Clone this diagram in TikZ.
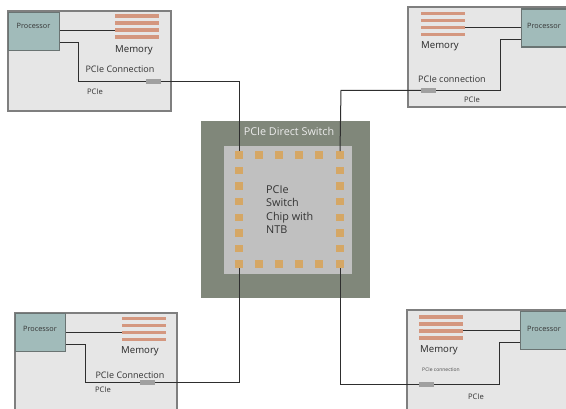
\documentclass[tikz,border=0pt]{standalone}
\usepackage{fontspec}
\setmainfont{Open Sans}
\definecolor{boxfill}{HTML}{E6E6E6}
\definecolor{boxedge}{HTML}{7F7F7F}
\definecolor{procfill}{HTML}{A1BBBA}
\definecolor{procedge}{HTML}{6A7473}
\definecolor{memcol}{HTML}{D4977F}
\definecolor{outerchip}{HTML}{80877A}
\definecolor{innerchip}{HTML}{C0C0C0}
\definecolor{pincol}{HTML}{D5A765}
\definecolor{conncol}{HTML}{A0A0A0}
\definecolor{wire}{HTML}{2E2E2E}
\definecolor{txt}{HTML}{333333}
\begin{document}
\begin{tikzpicture}[x=1pt,y=-1pt,
  hostbox/.style={fill=boxfill,draw=boxedge,line width=1.2pt},
  procbox/.style={fill=procfill,draw=procedge,line width=1.2pt},
  memstripe/.style={fill=memcol,draw=none},
  connbox/.style={fill=conncol,draw=none,minimum width=15pt,minimum height=5pt,inner sep=0pt},
  pin/.style={fill=pincol,draw=none,minimum size=7.5pt,inner sep=0pt},
  wireline/.style={draw=wire,line width=1pt},
  lbl/.style={text=txt,inner sep=0pt,font=\fontsize{9}{10}\selectfont},
  plbl/.style={text=black!80,inner sep=0pt,font=\fontsize{7.6}{9}\selectfont},
  mlbl/.style={text=black!85,inner sep=0pt,font=\fontsize{9.6}{11}\selectfont}]
\useasboundingbox (0,0) rectangle (566,409);
\fill[white] (0,0) rectangle (566,409);

% ---------- central switch ----------
\fill[outerchip] (201,121) rectangle (370,298);
\fill[innerchip] (224,146) rectangle (352,274);
\node[text=white!92!black,inner sep=0pt,font=\fontsize{10.8}{12}\selectfont] (title) at (289,131) {PCIe Direct Switch};
\foreach \i/\x in {1/239,2/259,3/279,4/299,5/319,6/340}{
  \node[pin] (t\i) at (\x,155) {};
  \node[pin] (b\i) at (\x,264) {};
}
\foreach \j/\y in {2/170.6,3/186.1,4/201.7,5/217.3,6/232.9,7/248.4}{
  \node[pin] (l\j) at (239,\y) {};
  \node[pin] (r\j) at (340,\y) {};
}
\node[text=txt,inner sep=0pt,align=left,anchor=north west,font=\fontsize{10.8}{13.6}\selectfont] (chip) at (266,185) {PCIe\\Switch\\Chip with\\NTB};

% ---------- top-left host ----------
\draw[hostbox] (8,11) rectangle (171,111);
\node[procbox,minimum width=51pt,minimum height=38pt,inner sep=0pt,anchor=north west] (p1) at (8,12) {};
\node[plbl,font=\fontsize{7.3}{9}\selectfont] at (33.5,26) {Processor};
\foreach \y in {16,23,30,37} \fill[memstripe] (115,\y-1.7) rectangle (159,\y+1.7);
\coordinate (m1) at (115,31);
\node[mlbl] (mt1) at (134,50) {Memory};
\node[lbl] at (120,69) {PCIe Connection};
\node[connbox] (c1) at (153.5,82) {};
\node[plbl] at (95,92) {PCIe};
\draw[wireline] (p1.east |- m1) -- (m1);
\draw[wireline] (p1.east |- 0,43) -- (78,43) -- (78,82) -- (c1.west);
\draw[wireline] (c1.east) -- (239,82) -- (t1.north);

% ---------- top-right host ----------
\draw[hostbox] (408,7) rectangle (580,107);
\node[procbox,minimum width=60pt,minimum height=38pt,inner sep=0pt,anchor=north west] (p2) at (521,8.5) {};
\node[plbl,font=\fontsize{7.3}{9}\selectfont] at (544,26) {Processor};
\foreach \y in {13.5,20.5,27.5,34.5} \fill[memstripe] (421,\y-1.7) rectangle (465,\y+1.7);
\coordinate (m2) at (465,27.5);
\node[mlbl] (mt2) at (440,46) {Memory};
\node[lbl] at (452,79) {PCIe connection};
\node[connbox] (c2) at (428.5,90.5) {};
\node[plbl] at (472,99.5) {PCIe};
\draw[wireline] (m2) -- (p2.west |- m2);
\draw[wireline] (p2.west |- 0,40) -- (500,40) -- (500,90.5) -- (c2.east);
\draw[wireline] (c2.west) -- (341,90.5) -- (t6.north);

% ---------- bottom-left host ----------
\draw[hostbox] (15,313) rectangle (177,420);
\node[procbox,minimum width=50pt,minimum height=38pt,inner sep=0pt,anchor=north west] (p3) at (15,313) {};
\node[plbl,font=\fontsize{7.3}{9}\selectfont] at (40,329) {Processor};
\foreach \y in {318.5,325.5,332.5,339.5} \fill[memstripe] (122,\y-1.7) rectangle (166,\y+1.7);
\coordinate (m3) at (122,332.5);
\node[mlbl] (mt3) at (140,351) {Memory};
\node[lbl] at (130,375) {PCIe Connection};
\node[connbox] (c3) at (147.5,383) {};
\node[plbl] at (103,389.5) {PCIe};
\draw[wireline] (p3.east |- m3) -- (m3);
\draw[wireline] (p3.east |- 0,345) -- (85,345) -- (85,383) -- (c3.west);
\draw[wireline] (c3.east) -- (239,383) -- (b1.south);

% ---------- bottom-right host ----------
\draw[hostbox] (407,310) rectangle (580,420);
\node[procbox,minimum width=60pt,minimum height=38pt,inner sep=0pt,anchor=north west] (p4) at (520,311) {};
\node[plbl,font=\fontsize{7.3}{9}\selectfont] at (544,329) {Processor};
\foreach \y in {317,324,331,338} \fill[memstripe] (419,\y-1.7) rectangle (463,\y+1.7);
\coordinate (m4) at (463,331);
\node[mlbl] (mt4) at (439,350) {Memory};
\node[text=black!70,inner sep=0pt,font=\fontsize{5}{6}\selectfont] at (441,370) {PCIe connection};
\node[connbox] (c4) at (426.5,385) {};
\node[plbl] at (476,397) {PCIe};
\draw[wireline] (m4) -- (p4.west |- m4);
\draw[wireline] (p4.west |- 0,343) -- (499,343) -- (499,385) -- (c4.east);
\draw[wireline] (c4.west) -- (340,385) -- (b6.south);
\end{tikzpicture}
\end{document}
